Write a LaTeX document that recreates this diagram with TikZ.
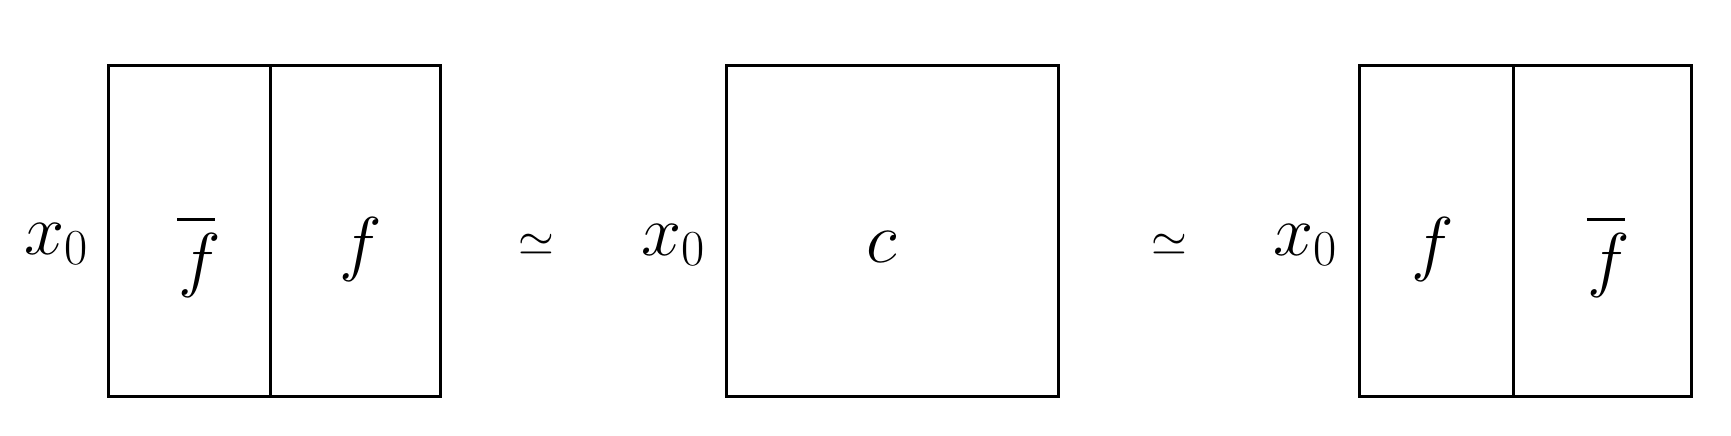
\RequirePackage{fix-cm}
\documentclass[tikz,border=0pt]{standalone}
\usepackage{fontspec}
\setmainfont{Liberation Serif}
\newcommand{\fbar}{\vbox{\offinterlineskip\hbox{\rule{38pt}{2.8pt}}\kern12.5pt\hbox{\kern1pt$f$}}}
\begin{document}
\begin{tikzpicture}[x=1pt,y=-1pt,
  cell/.style={draw=black,line width=3pt,rectangle,inner sep=0pt,minimum height=331pt},
  lbl/.style={inner sep=0pt,anchor=base,font=\fontsize{72}{80}\selectfont},
  rel/.style={inner sep=0pt,anchor=center,font=\fontsize{46}{50}\selectfont}]
\useasboundingbox (0,0) rectangle (1731,436);
% box 1
\node[cell,minimum width=162.2pt] (b1l) at (189.6,231.2) {};
\node[cell,minimum width=169.8pt] (b1r) at (355.6,231.2) {};
% box 2
\node[cell,minimum width=332pt] (b2) at (892.3,231.2) {};
% box 3
\node[cell,minimum width=154pt] (b3l) at (1436.3,231.2) {};
\node[cell,minimum width=178.4pt] (b3r) at (1602.5,231.2) {};
% labels
\node[lbl] (x1) at (56,254) {$x_0$};
\node[lbl] (x2) at (673,255) {$x_0$};
\node[lbl] (x3) at (1305,255) {$x_0$};
\node[lbl] (fb1) at (199,283) {\fbar};
\node[lbl] (f1) at (361,267) {$f$};
\node[lbl] (c2) at (882,262) {$c$};
\node[lbl] (f3) at (1433,267) {$f$};
\node[lbl] (fb3) at (1608.5,283) {\fbar};
\node[rel] (s1) at (536,245) {$\simeq$};
\node[rel] (s2) at (1169.5,245) {$\simeq$};
\end{tikzpicture}
\end{document}
